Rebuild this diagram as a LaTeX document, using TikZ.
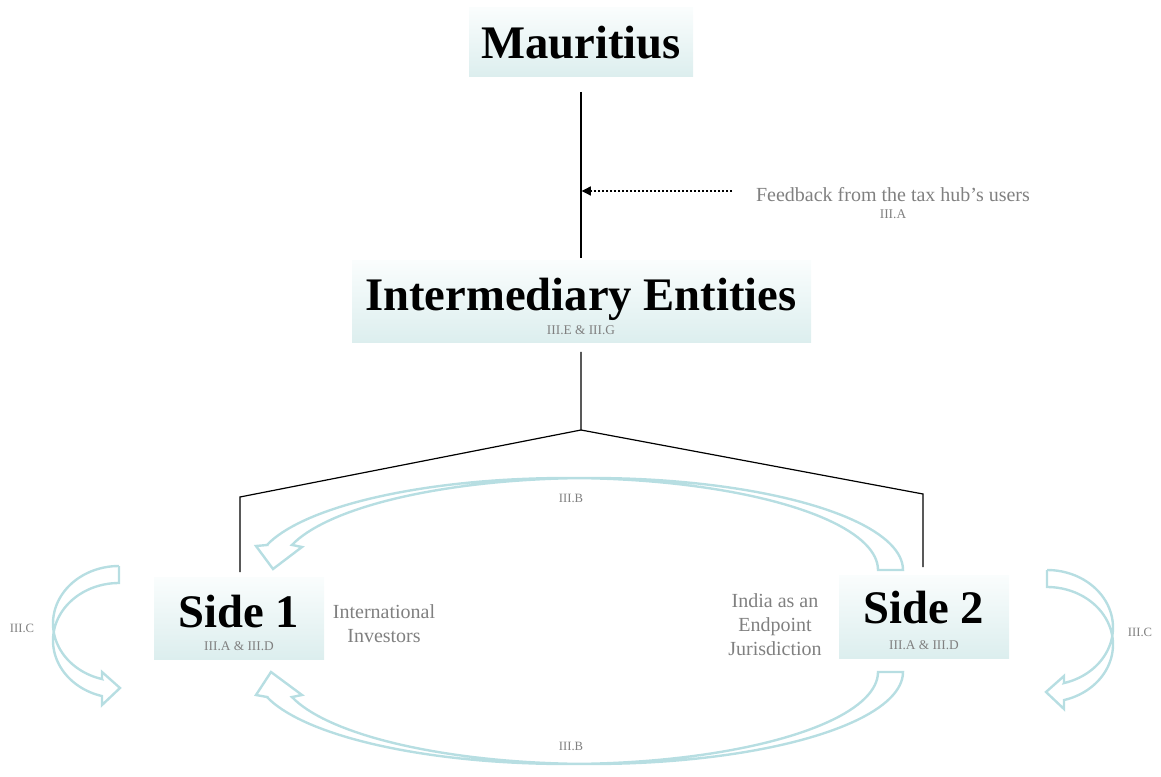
\documentclass[tikz,border=0pt]{standalone}
\usepackage{fontspec}
\setmainfont{Liberation Serif}
\usetikzlibrary{arrows.meta}
\definecolor{boxtop}{RGB}{250,253,253}
\definecolor{boxbot}{RGB}{220,238,238}
\definecolor{arrowteal}{RGB}{183,222,226}
\definecolor{labgray}{RGB}{128,128,128}
\tikzset{
  box/.style={inner sep=0pt, top color=boxtop, bottom color=boxbot, draw=none},
  title/.style={font=\fontsize{35pt}{40pt}\selectfont\bfseries, inner sep=0pt, anchor=base},
  sublab/.style={font=\fontsize{10pt}{12pt}\selectfont, text=labgray, inner sep=0pt},
  smalllab/.style={font=\fontsize{9.5pt}{11pt}\selectfont, text=labgray, inner sep=0pt},
  desc/.style={font=\fontsize{15pt}{18pt}\selectfont, text=labgray, inner sep=0pt, align=center},
  link/.style={draw=black, line width=0.9pt},
  carrow/.style={draw=arrowteal, line width=1.8pt, line join=miter},
}
\begin{document}
\begin{tikzpicture}[x=0.75pt,y=-0.75pt]
\useasboundingbox (0,0) rectangle (1161,777);

% boxes
\node[box, minimum width=168pt, minimum height=51.75pt] (maur) at (581,42.5) {};
\node[title] (maurtxt) at (581,58.5) {Mauritius};

\node[box, minimum width=344.25pt, minimum height=61.5pt] (inter) at (581.5,302) {};
\node[title] (intertxt) at (581,311) {Intermediary Entities};
\node[sublab] (intersub) at (581,330) {III.E \& III.G};

\node[box, minimum width=127.5pt, minimum height=61.5pt] (side1) at (239,618) {};
\node[title] (side1txt) at (239,627) {Side 1};
\node[sublab] (side1sub) at (239,646) {III.A \& III.D};

\node[box, minimum width=127.5pt, minimum height=62.25pt] (side2) at (924,616.5) {};
\node[title] (side2txt) at (924,623) {Side 2};
\node[sublab] (side2sub) at (924,645) {III.A \& III.D};

% black connectors
\coordinate (m1) at (581,92);
\coordinate (m2) at (581,258);
\coordinate (i1) at (581,352);
\coordinate (j) at (581,430);
\coordinate (l1) at (240,497);
\coordinate (l2) at (240,572);
\coordinate (r1) at (923,494);
\coordinate (r2) at (923,567);
\draw[link] (m1) -- (m2);
\draw[link] (i1) -- (j) -- (l1) -- (l2);
\draw[link] (j) -- (r1) -- (r2);

% feedback
\coordinate (fbstart) at (732,191);
\coordinate (fbend) at (581.5,191);
\draw[line width=1.8pt, dash pattern=on 1.6pt off 1.4pt, -{Triangle[length=7pt,width=6.5pt]}] (fbstart) -- (fbend);
\node[desc, anchor=base] (fb) at (893,202) {Feedback from the tax hub’s users};
\node[sublab] (fbsub) at (893,214) {III.A};

\node[desc] (intl) at (384,624) {International\\Investors};
\node[desc, anchor=north] (india) at (775,593) {India as an\\Endpoint\\Jurisdiction};

% curved block arrows
\draw[carrow] (878,570) -- (903,570)
  -- plot[domain=0:164.2, samples=80] ({591.6+311.4*cos(\x)},{570-92*sin(\x)})
  -- (302,547) -- (273,569) -- (256,546) -- (267,545)
  -- plot[domain=164.2:0, samples=80] ({566.6+311.4*cos(\x)},{570-92*sin(\x)}) -- cycle;

\draw[carrow] (878,672) -- (903,672)
  -- plot[domain=0:164.2, samples=80] ({591.6+311.4*cos(\x)},{672+92*sin(\x)})
  -- (302,695) -- (271,672) -- (256,695) -- (267,697)
  -- plot[domain=164.2:0, samples=80] ({566.6+311.4*cos(\x)},{672+92*sin(\x)}) -- cycle;

\draw[carrow] (119,566) -- (119,583)
  -- plot[domain=270:104.9, samples=60] ({119+66*cos(\x)},{640.5+57.5*sin(\x)})
  -- (102,705) -- (120,688) -- (102,672) -- (102,679)
  -- plot[domain=104.9:270, samples=60] ({119+66*cos(\x)},{623.5+57.5*sin(\x)}) -- cycle;

\draw[carrow] (1047,570) -- (1047,587)
  -- plot[domain=270:104.9, samples=60] ({1047-66*cos(\x)},{644.5+57.5*sin(\x)})
  -- (1064,709) -- (1046,692) -- (1064,676) -- (1064,683)
  -- plot[domain=104.9:270, samples=60] ({1047-66*cos(\x)},{627.5+57.5*sin(\x)}) -- cycle;

% arrow labels
\node[smalllab] (cl) at (22,628) {III.C};
\node[smalllab] (cr) at (1140,632) {III.C};
\node[smalllab] (bt) at (571,498) {III.B};
\node[smalllab] (bb) at (571,746) {III.B};
\end{tikzpicture}
\end{document}
